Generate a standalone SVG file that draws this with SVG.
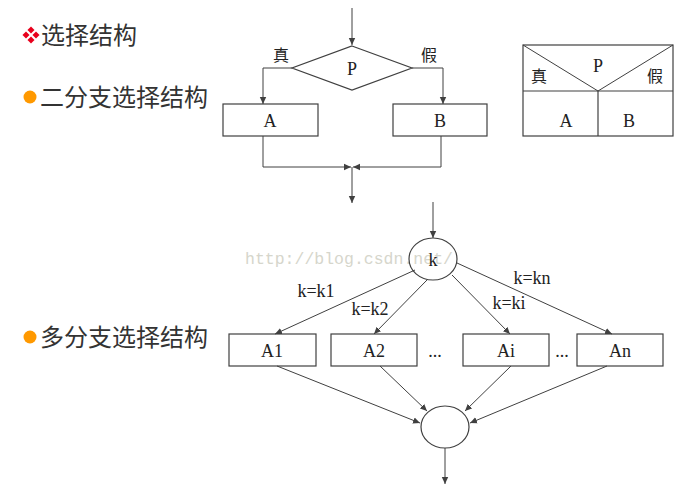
<svg xmlns="http://www.w3.org/2000/svg" width="683" height="489" viewBox="0 0 683 489">
<style>
.ln{fill:none;stroke:#404040;stroke-width:1}
.bx{fill:none;stroke:#404040;stroke-width:1.2}
.t{font-family:"Liberation Serif",serif;font-size:18px;fill:#222;text-anchor:middle}
.c{font-family:"Noto Sans CJK SC",sans-serif;font-size:16px;fill:#222;text-anchor:middle}
.h{font-family:"Noto Sans CJK SC",sans-serif;font-size:24px;fill:#333}
.wm{font-family:"Liberation Mono",monospace;font-size:16.5px;fill:#d6d6cc}
</style>
<defs>
<marker id="ar" markerWidth="8" markerHeight="8" refX="7" refY="4" orient="auto" markerUnits="userSpaceOnUse">
<path d="M0,0.8 L7,4 L0,7.2 Z" fill="#404040"/>
</marker>
</defs>
<rect width="683" height="489" fill="#fff"/>
<g id="headings">
<g id="ornament" fill="#e8001c">
<rect x="28.5" y="27.5" width="5" height="5" transform="rotate(45 31 30)"/>
<rect x="28.5" y="37.5" width="5" height="5" transform="rotate(45 31 40)"/>
<rect x="23.5" y="32.5" width="5" height="5" transform="rotate(45 26 35)"/>
<rect x="33.5" y="32.5" width="5" height="5" transform="rotate(45 36 35)"/>
</g>
<text class="h" x="41" y="44">选择结构</text>
<circle cx="30" cy="97" r="6.5" fill="#f90"/>
<text class="h" x="40" y="106">二分支选择结构</text>
<circle cx="30" cy="337" r="6.5" fill="#f90"/>
<text class="h" x="40" y="346">多分支选择结构</text>
</g>
<text class="wm" x="245" y="264">http://blog.csdn.net/</text>
<g id="connectors">
<line class="ln" x1="352" y1="8" x2="352" y2="45" marker-end="url(#ar)"/>
<polyline class="ln" points="292,68 263,68 263,104" marker-end="url(#ar)"/>
<polyline class="ln" points="412,68 443,68 443,104" marker-end="url(#ar)"/>
<polyline class="ln" points="263,136 263,167 351,167" marker-end="url(#ar)"/>
<polyline class="ln" points="441,136 441,167 353,167" marker-end="url(#ar)"/>
<line class="ln" x1="352" y1="167" x2="352" y2="203" marker-end="url(#ar)"/>
<line class="ln" x1="433" y1="202" x2="433" y2="238" marker-end="url(#ar)"/>
<line class="ln" x1="415" y1="270" x2="275" y2="334" marker-end="url(#ar)"/>
<line class="ln" x1="427" y1="280" x2="374" y2="334" marker-end="url(#ar)"/>
<line class="ln" x1="452" y1="275" x2="510" y2="334" marker-end="url(#ar)"/>
<line class="ln" x1="457" y1="263" x2="612" y2="334" marker-end="url(#ar)"/>
<line class="ln" x1="277" y1="366" x2="420" y2="423" marker-end="url(#ar)"/>
<line class="ln" x1="380" y1="366" x2="427" y2="411" marker-end="url(#ar)"/>
<line class="ln" x1="511" y1="366" x2="465" y2="411" marker-end="url(#ar)"/>
<line class="ln" x1="607" y1="366" x2="470" y2="423" marker-end="url(#ar)"/>
<line class="ln" x1="445" y1="448" x2="445" y2="484" marker-end="url(#ar)"/>
<text class="c" x="281" y="61">真</text>
<text class="c" x="429" y="61">假</text>
<text class="t" x="316" y="297">k=k1</text>
<text class="t" x="370" y="315">k=k2</text>
<text class="t" x="509" y="309">k=ki</text>
<text class="t" x="532" y="284">k=kn</text>
</g>
<g id="P">
<polygon class="bx" points="352,46 412,68 352,90 292,68"/>
<text class="t" x="352" y="75">P</text>
</g>
<g id="A">
<rect class="bx" x="223" y="104" width="95" height="32"/>
<text class="t" x="270" y="127">A</text>
</g>
<g id="B">
<rect class="bx" x="393" y="104" width="94" height="32"/>
<text class="t" x="440" y="127">B</text>
</g>
<g id="ns">
<rect class="bx" x="523" y="45" width="150" height="91"/>
<line class="bx" x1="523" y1="91" x2="673" y2="91"/>
<polyline class="ln" points="523,45 598,91 673,45"/>
<line class="bx" x1="598" y1="91" x2="598" y2="136"/>
<text class="t" x="598" y="72">P</text>
<text class="c" x="539" y="82">真</text>
<text class="c" x="655" y="82">假</text>
<text class="t" x="566" y="127">A</text>
<text class="t" x="629" y="127">B</text>
</g>
<g id="k">
<ellipse class="bx" cx="433" cy="259" rx="24" ry="21"/>
<text class="t" x="433" y="266">k</text>
</g>
<g id="A1"><rect class="bx" x="229" y="334" width="87" height="32"/><text class="t" x="272" y="357">A1</text></g>
<g id="A2"><rect class="bx" x="331" y="334" width="86" height="32"/><text class="t" x="374" y="357">A2</text></g>
<g id="Ai"><rect class="bx" x="463" y="334" width="86" height="32"/><text class="t" x="506" y="357">Ai</text></g>
<g id="An"><rect class="bx" x="577" y="334" width="86" height="32"/><text class="t" x="620" y="357">An</text></g>
<text class="t" x="435" y="357">...</text>
<text class="t" x="562" y="357">...</text>
<g id="join">
<ellipse class="bx" cx="445" cy="427" rx="24" ry="21"/>
</g>
</svg>
